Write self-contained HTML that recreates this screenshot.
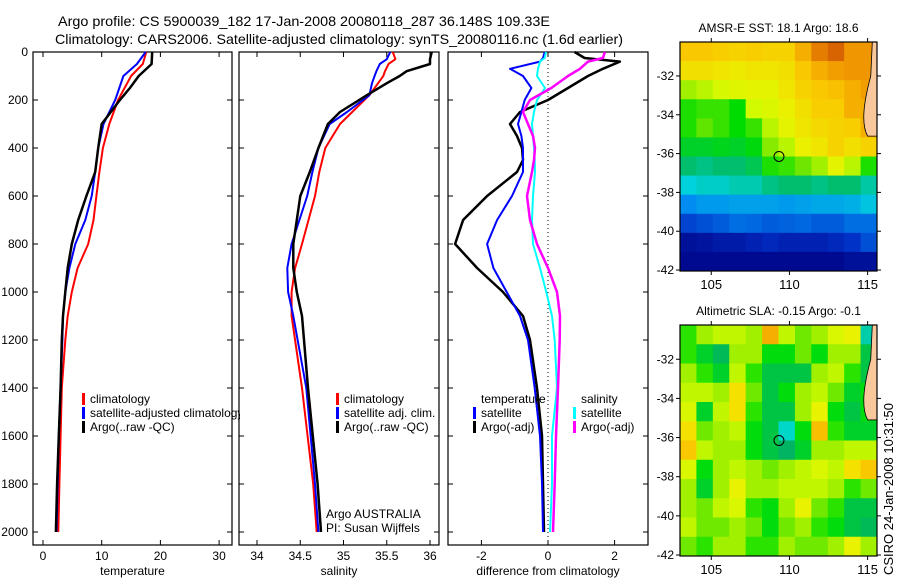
<!DOCTYPE html>
<html><head><meta charset="utf-8">
<style>
html,body{margin:0;padding:0;background:#fff;}
svg{display:block;font-family:"Liberation Sans",sans-serif;}
text{font-size:12px;fill:#000;}
</style></head>
<body>
<svg id="fig" width="900" height="580" viewBox="0 0 900 580" xmlns="http://www.w3.org/2000/svg">
  <text x="58" y="26" style="font-size:14px" textLength="492" lengthAdjust="spacingAndGlyphs">Argo profile: CS 5900039_182 17-Jan-2008 20080118_287 36.148S 109.33E</text>
  <text x="55" y="44" style="font-size:14px" textLength="568" lengthAdjust="spacingAndGlyphs">Climatology: CARS2006. Satellite-adjusted climatology: synTS_20080116.nc (1.6d earlier)</text>
  <g id="plots"></g>
  <text transform="translate(893,575) rotate(-90)" style="font-size:13px">CSIRO 24-Jan-2008 10:31:50</text>
</svg>
<script>
// ---------- data ----------
const tDepth = [0,50,100,150,200,300,400,500,600,700,800,900,1000,1100,1200,1400,1600,1800,2000];
const tClim  = [17.6,17.0,15.0,13.9,12.8,11.3,10.2,9.6,9.1,8.6,7.7,5.9,4.9,4.2,3.8,3.2,3.0,2.8,2.6];
const tSat   = [17.5,16.0,13.7,13.0,12.3,10.3,9.4,8.9,8.3,7.2,5.5,4.5,3.8,3.4,3.3,3.0,2.7,2.5,2.3];
const tArgo  = [18.6,18.5,16.3,14.8,13.1,10.0,9.4,8.9,7.4,6.0,4.9,4.2,3.8,3.4,3.2,3.0,2.7,2.4,2.2];

const sDepth = [0,30,50,80,100,130,180,250,300,400,500,600,800,900,1000,1100,1400,1800,2000];
const sClim  = [35.57,35.6,35.52,35.48,35.46,35.4,35.3,35.1,34.96,34.79,34.72,34.67,34.52,34.44,34.4,34.4,34.52,34.65,34.69];
const sSat   = [35.54,35.5,35.42,35.38,35.36,35.33,35.3,35.04,34.84,34.71,34.64,34.58,34.4,34.35,34.36,34.42,34.57,34.67,34.71];
const sArgo  = [36.02,36.0,36.0,35.73,35.65,35.5,35.27,34.96,34.82,34.71,34.61,34.5,34.42,34.42,34.46,34.52,34.59,34.7,34.74];

const dDepth = [0,25,40,70,100,150,200,250,300,350,400,450,500,600,700,800,900,1000,1100,1200,1400,1600,1800,2000];
const dTSat  = [-0.1,-0.15,-0.24,-1.14,-0.75,-0.5,-0.7,-0.8,-0.9,-0.8,-0.75,-0.75,-0.75,-1.08,-1.53,-1.83,-1.64,-1.24,-0.84,-0.6,-0.4,-0.24,-0.18,-0.15];
const dTArgo = [0.8,1.1,2.16,1.65,1.2,0.6,0.0,-0.84,-1.14,-0.93,-0.78,-0.75,-0.93,-1.83,-2.55,-2.79,-2.13,-1.35,-0.75,-0.54,-0.33,-0.18,-0.15,-0.12];
const dSSat  = [-0.06,-0.1,-0.24,-0.3,-0.33,-0.09,-0.33,-0.42,-0.48,-0.45,-0.42,-0.4,-0.39,-0.45,-0.48,-0.45,-0.24,-0.05,0.12,0.2,0.27,0.12,0.12,0.06];
const dSArgo = [1.71,1.65,1.2,0.96,0.6,0.1,-0.54,-0.75,-0.6,-0.45,-0.39,-0.42,-0.48,-0.63,-0.54,-0.33,0.0,0.27,0.36,0.35,0.3,0.24,0.2,0.15];

const depthTicks = [0,200,400,600,800,1000,1200,1400,1600,1800,2000];
const tTicks = [0,10,20,30];
const sTicks = [34,34.5,35,35.5,36];
const dTicks = [-2,0,2];
const latTicks = [-32,-34,-36,-38,-40,-42];
const lonTicks = [105,110,115];

// SST map values (0..1 colour index), rows north->south, cols west->east
const sstGrid = [
 [.87,.87,.86,.85,.86,.85,.85,.9,.95,.97,.93,.93],
 [.83,.83,.82,.81,.82,.82,.83,.87,.9,.92,.93,.93],
 [.7,.72,.75,.77,.78,.78,.82,.85,.87,.88,.9,.92],
 [.6,.62,.62,.58,.74,.76,.8,.83,.86,.86,.9,.9],
 [.6,.65,.62,.58,.62,.72,.78,.82,.84,.85,.86,.9],
 [.55,.55,.56,.55,.57,.68,.72,.8,.82,.85,.83,.85],
 [.5,.48,.5,.5,.52,.6,.62,.66,.7,.78,.72,.6],
 [.4,.42,.42,.44,.44,.48,.5,.5,.48,.5,.5,.45],
 [.3,.32,.32,.33,.33,.33,.32,.33,.34,.34,.35,.38],
 [.18,.2,.22,.25,.24,.22,.23,.24,.22,.22,.25,.25],
 [.05,.06,.08,.08,.1,.12,.1,.1,.1,.12,.15,.2],
 [.03,.03,.03,.03,.03,.03,.03,.03,.03,.03,.05,.05]
];
// SLA map values (0..1 colour index: 0.1 cyan .. 0.5 light green .. 0.85 orange)
const slaGrid = [
 [.45,.55,.6,.6,.55,.85,.6,.5,.55,.65,.7,.15],
 [.45,.35,.25,.55,.55,.4,.4,.5,.4,.55,.55,.3],
 [.55,.45,.35,.6,.45,.3,.3,.3,.55,.6,.45,.3],
 [.6,.6,.55,.75,.5,.3,.4,.55,.6,.5,.35,.4],
 [.65,.35,.6,.75,.45,.3,.3,.55,.7,.4,.3,.4],
 [.75,.5,.55,.6,.4,.3,.12,.4,.82,.45,.35,.35],
 [.8,.6,.55,.55,.4,.3,.22,.35,.55,.55,.6,.6],
 [.65,.4,.55,.6,.55,.5,.55,.6,.65,.6,.75,.8],
 [.55,.35,.55,.7,.55,.55,.6,.6,.6,.55,.45,.5],
 [.55,.5,.6,.65,.45,.4,.55,.7,.5,.45,.3,.3],
 [.6,.5,.5,.55,.5,.4,.5,.55,.45,.4,.3,.25],
 [.5,.45,.55,.55,.45,.45,.55,.5,.5,.55,.7,.55]
];
const argoLon = [109.33];
const argoLat = [-36.148];

// ---------- helpers ----------
const NS="http://www.w3.org/2000/svg";
const root=document.getElementById('plots');
function mk(tag,attrs,parent){const e=document.createElementNS(NS,tag);for(const k in attrs)e.setAttribute(k,attrs[k]);(parent||root).appendChild(e);return e;}
const TOP=52, BOT=545, DPX=0.24;
const yD = d => TOP + d*DPX;

function panel(name,x0,x1,xFn,ticks,fmt,xlabel,showDepth){
  const g=mk('g',{});
  
  
  const box=mk('rect',{x:x0,y:TOP,width:x1-x0,height:BOT-TOP,fill:'none',stroke:'#000','stroke-width':1.2},g);
  
  
  ticks.forEach(v=>{
    const x=xFn(v);
    mk('line',{x1:x,x2:x,y1:TOP,y2:TOP+5,stroke:'#000'},g);
    mk('line',{x1:x,x2:x,y1:BOT,y2:BOT-5,stroke:'#000'},g);
    const t=mk('text',{x:x,y:BOT+15,'text-anchor':'middle'},g);
    t.textContent=fmt(v);
    
    
  });
  depthTicks.forEach(d=>{
    const y=yD(d);
    mk('line',{x1:x0,x2:x0+5,y1:y,y2:y,stroke:'#000'},g);
    mk('line',{x1:x1,x2:x1-5,y1:y,y2:y,stroke:'#000'},g);
    if(showDepth){const t=mk('text',{x:28,y:y+4,'text-anchor':'end'},g);t.textContent=d;
      
      }
  });
  const lab=mk('text',{x:(x0+x1)/2,y:BOT+30,'text-anchor':'middle'},g);
  lab.textContent=xlabel;
  
  
  return g;
}
function line(g,name,depths,vals,xFn,color,w){
  const pts=depths.map((d,i)=>xFn(vals[i]).toFixed(1)+','+yD(d).toFixed(1)).join(' ');
  const p=mk('polyline',{points:pts,fill:'none',stroke:color,'stroke-width':w,'stroke-linejoin':'round'},g);
  
  
}
function legend(g,name,x,y,color,label,clipId){
  const e=mk('g',clipId?{'clip-path':'url(#'+clipId+')'}:{},g);
  
  
  mk('rect',{x:x,y:y-10,width:3,height:12,fill:color},e);
  const t=mk('text',{x:x+8,y:y},e);t.textContent=label;
}

const defs=mk('defs',{});
const cp=mk('clipPath',{id:'clip1'},defs);
mk('rect',{x:33,y:50,width:207,height:500},cp);

// ---------- panel 1 ----------
const xT=v=>43+v*5.87;
const g1=panel('temperature-panel',33,232,xT,tTicks,v=>v,'temperature',true);
line(g1,'temp-climatology-line',tDepth,tClim,xT,'#f00',2);
line(g1,'temp-satellite-line',tDepth,tSat,xT,'#00f',2);
line(g1,'temp-argo-line',tDepth,tArgo,xT,'#000',2.5);
legend(g1,'legend-climatology',82,403,'#f00','climatology','clip1');
legend(g1,'legend-satellite-adjusted',82,417,'#00f','satellite-adjusted climatology','clip1');
legend(g1,'legend-argo',82,431,'#000','Argo(..raw -QC)','clip1');

// ---------- panel 2 ----------
const xS=v=>257+(v-34)*86.5;
const g2=panel('salinity-panel',239,439,xS,sTicks,v=>v,'salinity',false);
line(g2,'sal-climatology-line',sDepth,sClim,xS,'#f00',2);
line(g2,'sal-satellite-line',sDepth,sSat,xS,'#00f',2);
line(g2,'sal-argo-line',sDepth,sArgo,xS,'#000',2.5);
legend(g2,'legend-sal-climatology',336,403,'#f00','climatology');
legend(g2,'legend-sal-satellite',336,417,'#00f','satellite adj. clim.');
legend(g2,'legend-sal-argo',336,431,'#000','Argo(..raw -QC)');
const a1=mk('text',{x:326,y:518},g2);a1.textContent='Argo AUSTRALIA';


const a2=mk('text',{x:326,y:532},g2);a2.textContent='PI: Susan Wijffels';



// ---------- panel 3 ----------
const xD=v=>548+v*33.3;
const g3=panel('difference-panel',448,648,xD,dTicks,v=>v,'difference from climatology',false);
const zl=mk('line',{x1:xD(0),x2:xD(0),y1:TOP,y2:BOT,stroke:'#000','stroke-dasharray':'1,3'},g3);


line(g3,'diff-temp-argo-line',dDepth,dTArgo,xD,'#000',2.5);
line(g3,'diff-temp-satellite-line',dDepth,dTSat,xD,'#00f',2);
line(g3,'diff-sal-satellite-line',dDepth,dSSat,xD,'#0ff',2);
line(g3,'diff-sal-argo-line',dDepth,dSArgo,xD,'#f0f',2.5);
const lt=mk('text',{x:481,y:403},g3);lt.textContent='temperature';


const ls=mk('text',{x:581,y:403},g3);ls.textContent='salinity';


legend(g3,'legend-diff-temp-satellite',473,417,'#00f','satellite');
legend(g3,'legend-diff-temp-argo',473,431,'#000','Argo(-adj)');
legend(g3,'legend-diff-sal-satellite',573,417,'#0ff','satellite');
legend(g3,'legend-diff-sal-argo',573,431,'#f0f','Argo(-adj)');

// ---------- maps ----------
function interp(stops,v){
  for(let i=1;i<stops.length;i++){if(v<=stops[i][0]){const a=stops[i-1],b=stops[i],t=Math.max(0,(v-a[0])/(b[0]-a[0]));
    return 'rgb('+a[1].map((c,k)=>Math.round(c+(b[1][k]-c)*t)).join(',')+')';}}
  const l=stops[stops.length-1][1];return 'rgb('+l.join(',')+')';
}
const sstStops=[[0,[0,0,130]],[0.15,[0,50,200]],[0.3,[0,140,240]],[0.4,[0,210,220]],[0.5,[0,190,110]],[0.58,[0,220,0]],[0.66,[110,230,0]],[0.74,[210,250,0]],[0.8,[235,240,0]],[0.87,[250,200,0]],[0.93,[240,150,0]],[0.97,[215,100,0]],[1,[180,40,0]]];
const slaStops=[[0,[0,200,220]],[0.12,[0,215,200]],[0.22,[0,180,100]],[0.32,[0,200,60]],[0.42,[0,225,0]],[0.52,[140,235,0]],[0.62,[205,250,0]],[0.72,[240,240,0]],[0.8,[250,200,0]],[0.9,[240,150,0]],[1,[220,100,0]]];
function map(name,y0,y1,grid,title,stops){
  const X0=680,X1=877;
  const lonW=103.0,lonE=115.6,latN=-30.25,latS=-42.05;
  const xL=lon=>X0+(lon-lonW)/(lonE-lonW)*(X1-X0);
  const yL=lat=>y0+(latN-lat)/(latN-latS)*(y1-y0);
  const g=mk('g',{});
  
  
  const nr=grid.length,nc=grid[0].length;
  const dLat=(latN-latS)/nr,dLon=(lonE-lonW)/nc;
  grid.forEach((row,r)=>row.forEach((v,c)=>{
    const x=xL(lonW+c*dLon),y=yL(latN-r*dLat);
    const cell=mk('rect',{x:x,y:y,width:xL(lonW+(c+1)*dLon)-x+0.5,height:yL(latN-(r+1)*dLat)-y+0.5,fill:interp(stops,v)},g);
    
    
  }));
  const land=mk('path',{d:`M${xL(115.3)},${y0} L${X1},${y0} L${X1},${yL(-35.1)} L${xL(115.0)},${yL(-35.1)} C${xL(114.6)},${yL(-34.5)} ${xL(114.7)},${yL(-33.5)} ${xL(115.2)},${yL(-32)} Z`,fill:'#f8c89c',stroke:'#000','stroke-width':0.8},g);
  
  
  const fr=mk('rect',{x:X0,y:y0,width:X1-X0,height:y1-y0,fill:'none',stroke:'#000','stroke-width':1.2},g);
  
  
  latTicks.forEach(la=>{const y=yL(la);
    mk('line',{x1:X0-4,x2:X0,y1:y,y2:y,stroke:'#000'},g);
    mk('line',{x1:X1,x2:X1+4,y1:y,y2:y,stroke:'#000'},g);
    const t=mk('text',{x:X0-6,y:y+4,'text-anchor':'end'},g);t.textContent=la;
    
    });
  lonTicks.forEach(lo=>{const x=xL(lo);
    mk('line',{x1:x,x2:x,y1:y1,y2:y1+4,stroke:'#000'},g);
    mk('line',{x1:x,x2:x,y1:y0-4,y2:y0,stroke:'#000'},g);
    const t=mk('text',{x:x,y:y1+18,'text-anchor':'middle',style:'font-size:13px'},g);t.textContent=lo;
    
    });
  const c=mk('circle',{cx:xL(argoLon[0]),cy:yL(argoLat[0]),r:5,fill:'none',stroke:'#000','stroke-width':1},g);
  
  
  const tt=mk('text',{x:(X0+X1)/2,y:y0-10,'text-anchor':'middle'},g);tt.textContent=title;
  
  
}
map('sst-map',42,271,sstGrid,'AMSR-E SST: 18.1 Argo: 18.6',sstStops);
map('sla-map',325,556,slaGrid,'Altimetric SLA: -0.15 Argo: -0.1',slaStops);
</script>
</body></html>
